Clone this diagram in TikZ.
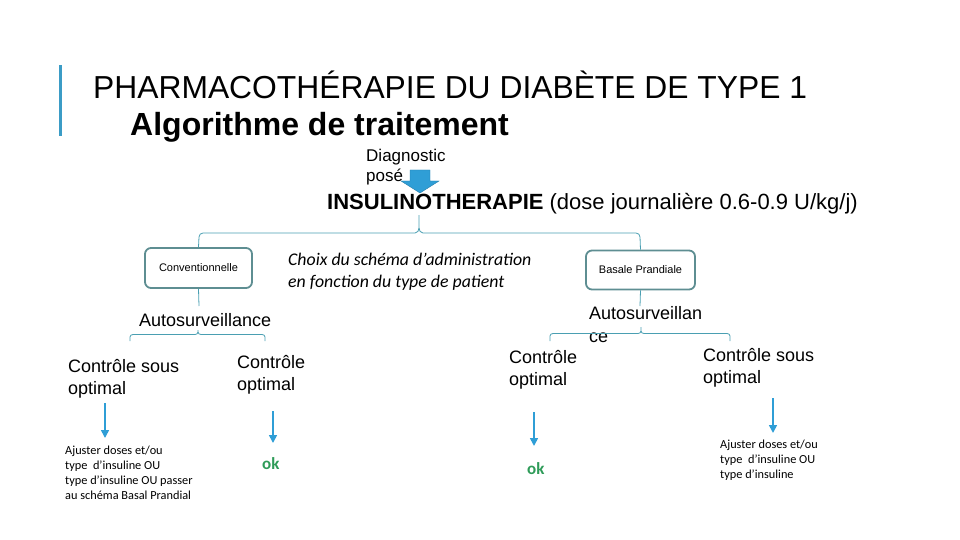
\documentclass[tikz,border=0pt]{standalone}
\usepackage{fontspec}
\setmainfont{Liberation Sans}
\newfontfamily\calfont{Carlito}
\usetikzlibrary{arrows.meta}
\definecolor{barblue}{HTML}{3B9CC6}
\definecolor{arrblue}{HTML}{2F9ED6}
\definecolor{conncol}{HTML}{4A9FB2}
\definecolor{boxcol}{HTML}{5E8E92}
\definecolor{okgreen}{HTML}{2E9B58}
\tikzset{
  txt/.style={inner sep=0pt, anchor=base west, align=left},
  schemebox/.style={draw=boxcol, line width=1.8pt, rounded corners=6pt, inner sep=0pt, font=\fontsize{11}{13}\selectfont},
  conn/.style={draw=conncol, line width=0.8pt},
  downarr/.style={draw=arrblue, line width=1.6pt, -{Triangle[width=8pt,length=8pt]}},
}
\begin{document}
\begin{tikzpicture}[x=1pt,y=-1pt]
\useasboundingbox (0,0) rectangle (960,540);
% title bar
\fill[barblue] (59,65) rectangle (62,136);
\node[txt, font=\fontsize{31.8}{36}\selectfont] (title1) at (93,99) {PHARMACOTHÉRAPIE DU DIABÈTE DE TYPE 1};
\node[txt, font=\bfseries\fontsize{32}{36}\selectfont] (title2) at (130,136) {Algorithme de traitement};
% diagnostic
\node[txt, font=\fontsize{17}{20}\selectfont] (diag) at (366,182) {Diagnostic\\posé};
% block arrow
\fill[arrblue, draw=arrblue!80!black, line width=0.4pt]
  (410,170) -- (430,170) -- (430,181) -- (439,181) -- (420,193) -- (401,181) -- (410,181) -- cycle;
\node[txt, font=\fontsize{22}{26}\selectfont] (insul) at (327,209) {\textbf{INSULINOTHERAPIE} (dose journalière 0.6-0.9 U/kg/j)};
\coordinate (insB) at (419,215);
% boxes
\node[schemebox, minimum width=107pt, minimum height=40pt] (conv) at (198.5,268) {Conventionnelle};
\node[schemebox, minimum width=109pt, minimum height=39pt] (basal) at (640.5,270) {Basale Prandiale};
\node[txt, font=\calfont\itshape\fontsize{17.8}{22}\selectfont] (choix) at (288,287) {Choix du schéma d’administration\\en fonction du type de patient};
% top bracket
\draw[conn] (conv.north) -- (199,237) to[out=90,in=180] (203,233) -- (415,233) to[out=0,in=-90] (419,228) -- (insB);
\draw[conn] (basal.north) -- (640,237) to[out=90,in=0] (636,233) -- (423,233) to[out=180,in=-90] (419,228);
% left branch
\node[txt, font=\fontsize{18}{22}\selectfont] (autoL) at (139,326) {Autosurveillance};
\draw[conn] (conv.south) -- (199,306);
\coordinate (autoLb) at (198,330);
\draw[conn] (autoLb) -- (198,332) to[out=-90,in=0] (195,334.5) -- (133,334.5) to[out=180,in=90] (130,337) -- (130,341);
\draw[conn] (198,332) to[out=-90,in=180] (201,334.5) -- (262,334.5) to[out=0,in=90] (265,337) -- (265,341);
\node[txt, font=\fontsize{18}{21.5}\selectfont] (csoL) at (68,394) {Contrôle sous\\optimal};
\node[txt, font=\fontsize{18}{21.5}\selectfont] (coL) at (237,390) {Contrôle\\optimal};
\coordinate (aL1s) at (105,403);
\coordinate (aL1e) at (105,438);
\draw[downarr] (aL1s) -- (aL1e);
\coordinate (aL2s) at (273,411);
\coordinate (aL2e) at (273,443);
\draw[downarr] (aL2s) -- (aL2e);
\node[txt, font=\calfont\fontsize{12.3}{14.8}\selectfont] (ajL) at (65,499) {Ajuster doses et/ou\\type \ d’insuline OU\\type d’insuline OU passer\\au schéma Basal Prandial};
\node[txt, font=\calfont\bfseries\fontsize{17}{20}\selectfont, text=okgreen] (okL) at (262,469) {ok};
% right branch
\node[txt, font=\fontsize{18}{22.5}\selectfont] (autoR) at (589,342) {Autosurveillan\\ce};
\draw[conn] (basal.south) -- (640,306);
\coordinate (autoRb) at (641,327);
\draw[conn] (autoRb) -- (641,331) to[out=-90,in=0] (638,333.5) -- (553,333.5) to[out=180,in=90] (550,336) -- (550,341);
\draw[conn] (641,331) to[out=-90,in=180] (644,333.5) -- (727,333.5) to[out=0,in=90] (730,336) -- (730,341);
\node[txt, font=\fontsize{18}{21.5}\selectfont] (coR) at (509,385) {Contrôle\\optimal};
\node[txt, font=\fontsize{18}{21.5}\selectfont] (csoR) at (703,383) {Contrôle sous\\optimal};
\coordinate (aR1s) at (534,412);
\coordinate (aR1e) at (534,446);
\draw[downarr] (aR1s) -- (aR1e);
\coordinate (aR2s) at (773,398);
\coordinate (aR2e) at (773,433);
\draw[downarr] (aR2s) -- (aR2e);
\node[txt, font=\calfont\bfseries\fontsize{17}{20}\selectfont, text=okgreen] (okR) at (527,474) {ok};
\node[txt, font=\calfont\fontsize{12.3}{14.8}\selectfont] (ajR) at (720,478) {Ajuster doses et/ou\\type \ d’insuline OU\\type d’insuline};
\end{tikzpicture}
\end{document}
